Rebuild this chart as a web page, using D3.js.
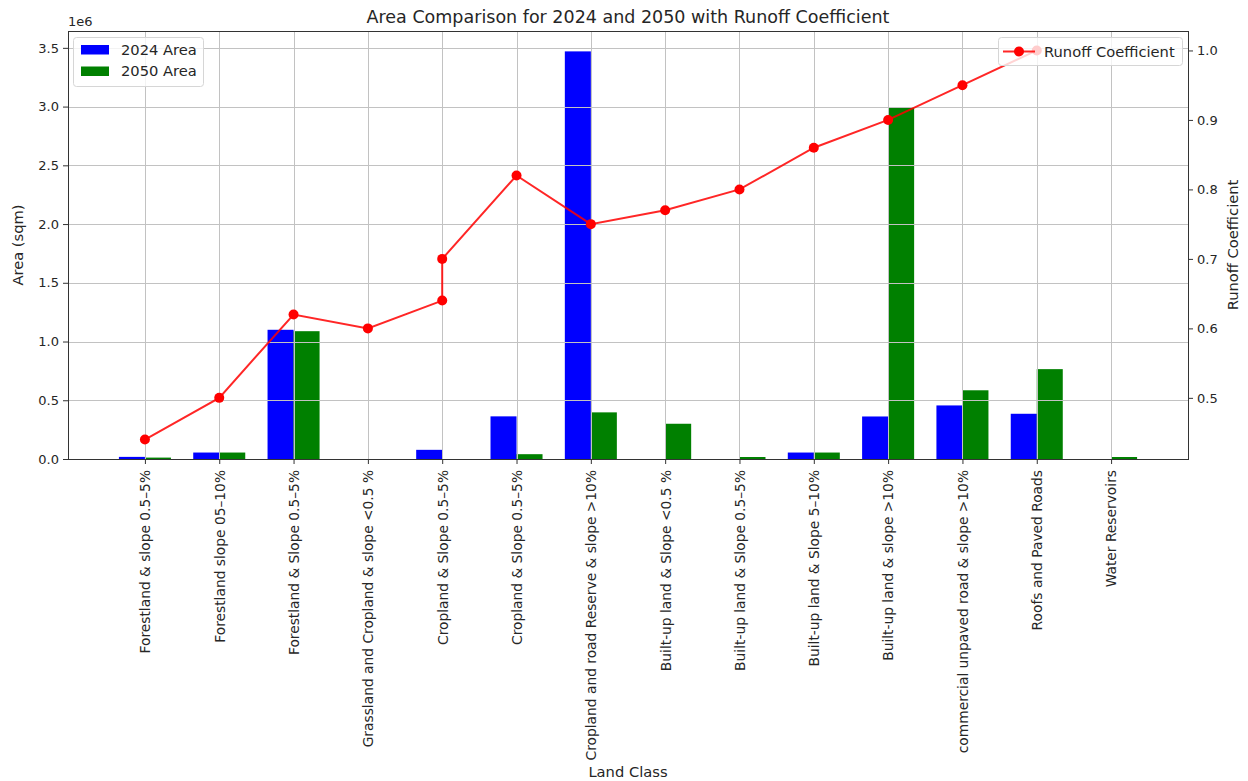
<!DOCTYPE html>
<html>
<head>
<meta charset="utf-8">
<script src="https://cdn.jsdelivr.net/npm/d3@7"></script>
<style>
  html, body { margin: 0; padding: 0; background: #fff; }
  svg { display: block; font-family: "DejaVu Sans", sans-serif; }
</style>
</head>
<body>
<svg id="chart" width="1248" height="781"></svg>
<script>
// Land classes (note: "Cropland & Slope 0.5–5%" appears twice)
const landClasses = [
  "Forestland & slope 0.5–5%",
  "Forestland slope 05–10%",
  "Forestland & Slope 0.5–5%",
  "Grassland and Cropland & slope <0.5 %",
  "Cropland & Slope 0.5–5%",
  "Cropland & Slope 0.5–5%",
  "Cropland and road Reserve & slope >10%",
  "Built-up land & Slope <0.5 %",
  "Built-up land & Slope 0.5–5%",
  "Built-up land & Slope 5–10%",
  "Built-up land & slope >10%",
  "commercial unpaved road & slope >10%",
  "Roofs and Paved Roads",
  "Water Reservoirs"
];

// Areas in square metres
const area2024 = [18000, 55000, 1100000, 0, 78000, 363000, 3470000, 0, 0, 55000, 362000, 456000, 385000, 0];
const area2050 = [12000, 55000, 1088000, 0, 0, 41000, 397000, 300000, 17000, 55000, 2990000, 585000, 765000, 17000];

// Runoff coefficient per land class; the line is placed by class name,
// so repeated names share one slot and later classes move left by one
const runoffCoeff = [0.44, 0.50, 0.62, 0.60, 0.64, 0.70, 0.82, 0.75, 0.77, 0.80, 0.86, 0.90, 0.95, 1.00];

const leftTicks = [0, 0.5e6, 1.0e6, 1.5e6, 2.0e6, 2.5e6, 3.0e6, 3.5e6];
const rightTicks = [0.5, 0.6, 0.7, 0.8, 0.9, 1.0];

const svg = d3.select("#chart");
const plot = { left: 68, right: 1188, top: 31, bottom: 459 };
const textColor = "#262626";
const tickFs = 13, xTickFs = 13.8, labelFs = 14.7, titleFs = 17.5;

const barW = 0.35;
const n = landClasses.length;
const xPad = 0.05 * (n - 1 + 2 * barW);
const x = d3.scaleLinear()
  .domain([-barW - xPad, n - 1 + barW + xPad])
  .range([plot.left, plot.right]);

const maxArea = d3.max(area2024.concat(area2050));
const yL = d3.scaleLinear().domain([0, maxArea * 1.05]).range([plot.bottom, plot.top]);

const rMin = d3.min(runoffCoeff), rMax = d3.max(runoffCoeff);
const rPad = 0.05 * (rMax - rMin);
const yR = d3.scaleLinear().domain([rMin - rPad, rMax + rPad]).range([plot.bottom, plot.top]);

// Bars
const barG = svg.append("g");
barG.selectAll("rect.b24").data(area2024).join("rect")
  .attr("x", (d, i) => x(i - barW))
  .attr("width", (d, i) => x(i) - x(i - barW))
  .attr("y", d => yL(d))
  .attr("height", d => yL(0) - yL(d))
  .attr("fill", "#0000ff");
barG.selectAll("rect.b50").data(area2050).join("rect")
  .attr("x", (d, i) => x(i))
  .attr("width", (d, i) => x(i + barW) - x(i))
  .attr("y", d => yL(d))
  .attr("height", d => yL(0) - yL(d))
  .attr("fill", "#008000");

// Grid (drawn above the bars)
const grid = svg.append("g").attr("stroke", "#c2c2c2").attr("stroke-width", 1);
grid.selectAll("line.v").data(d3.range(n)).join("line")
  .attr("x1", i => Math.round(x(i)) + 0.5).attr("x2", i => Math.round(x(i)) + 0.5)
  .attr("y1", plot.top).attr("y2", plot.bottom);
grid.selectAll("line.h").data(leftTicks).join("line")
  .attr("x1", plot.left).attr("x2", plot.right)
  .attr("y1", d => Math.round(yL(d)) + 0.5).attr("y2", d => Math.round(yL(d)) + 0.5);

// Axes
const xAxis = d3.axisBottom(x).tickValues(d3.range(n))
  .tickFormat(i => landClasses[i]).tickSize(5).tickPadding(5);
const gx = svg.append("g").attr("transform", `translate(0,${plot.bottom})`).call(xAxis);

const gyL = svg.append("g").attr("transform", `translate(${plot.left},0)`)
  .call(d3.axisLeft(yL).tickValues(leftTicks).tickFormat(d => (d / 1e6).toFixed(1)).tickSize(5).tickPadding(5));

const gyR = svg.append("g").attr("transform", `translate(${plot.right},0)`)
  .call(d3.axisRight(yR).tickValues(rightTicks).tickFormat(d3.format(".1f")).tickSize(5).tickPadding(5));

[gx, gyL, gyR].forEach(g => {
  g.select(".domain").remove();
  g.selectAll("line").attr("stroke", "#333");
  g.selectAll("text").attr("fill", textColor).style("font-size", tickFs + "px")
    .style("font-family", "DejaVu Sans, sans-serif");
});
gx.selectAll("text")
  .style("font-size", xTickFs + "px")
  .attr("transform", "rotate(-90)")
  .attr("text-anchor", "end")
  .attr("x", -11).attr("y", 0).attr("dy", "0.35em");
gyL.selectAll("text").attr("x", -9);
gyR.selectAll("text").attr("x", 9);

// Frame
svg.append("rect")
  .attr("x", plot.left + 0.5).attr("y", plot.top + 0.5)
  .attr("width", plot.right - plot.left).attr("height", plot.bottom - plot.top)
  .attr("fill", "none").attr("stroke", "#333").attr("stroke-width", 1);

// Offset text for the left axis
svg.append("text").attr("x", plot.left).attr("y", 26)
  .attr("fill", textColor).style("font-size", "13px").text("1e6");

// Titles
svg.append("text").attr("x", (plot.left + plot.right) / 2).attr("y", 23)
  .attr("text-anchor", "middle").attr("fill", textColor).style("font-size", titleFs + "px")
  .text("Area Comparison for 2024 and 2050 with Runoff Coefficient");
svg.append("text").attr("x", (plot.left + plot.right) / 2).attr("y", 777)
  .attr("text-anchor", "middle").attr("fill", textColor).style("font-size", labelFs + "px")
  .text("Land Class");
svg.append("text")
  .attr("transform", `translate(23,${(plot.top + plot.bottom) / 2}) rotate(-90)`)
  .attr("text-anchor", "middle").attr("fill", textColor).style("font-size", labelFs + "px")
  .text("Area (sqm)");
svg.append("text")
  .attr("transform", `translate(1238,${(plot.top + plot.bottom) / 2}) rotate(-90)`)
  .attr("text-anchor", "middle").attr("fill", textColor).style("font-size", labelFs + "px")
  .text("Runoff Coefficient");

// Legend for the bars
const legL = svg.append("g");
legL.append("rect").attr("x", 73.5).attr("y", 37.5).attr("width", 130).attr("height", 49)
  .attr("rx", 3).attr("fill", "#fff").attr("fill-opacity", 0.8).attr("stroke", "#d6d6d6");
[["2024 Area", "#0000ff"], ["2050 Area", "#008000"]].forEach(([label, c], k) => {
  const cy = 49.5 + k * 21.5;
  legL.append("rect").attr("x", 81).attr("y", cy - 4.5).attr("width", 28).attr("height", 9.5).attr("fill", c);
  legL.append("text").attr("x", 121).attr("y", cy).attr("dy", "0.35em")
    .attr("fill", textColor).style("font-size", labelFs + "px").text(label);
});

// Runoff line (secondary axis); each class name maps to its first-seen slot
const slots = Array.from(new Set(landClasses));
const linePts = runoffCoeff.map((v, i) => ({ xi: slots.indexOf(landClasses[i]), v }));
const line = d3.line().x(d => x(d.xi)).y(d => yR(d.v));
svg.append("path").datum(linePts).attr("d", line)
  .attr("fill", "none").attr("stroke", "#ff0000").attr("stroke-opacity", 0.85).attr("stroke-width", 2);
svg.append("g").selectAll("circle").data(linePts).join("circle")
  .attr("cx", d => x(d.xi)).attr("cy", d => yR(d.v)).attr("r", 5).attr("fill", "#ff0000");

// Legend for the line
const legR = svg.append("g");
legR.append("rect").attr("x", 998.5).attr("y", 37.5).attr("width", 184).attr("height", 28)
  .attr("rx", 3).attr("fill", "#fff").attr("fill-opacity", 0.8).attr("stroke", "#d6d6d6");
legR.append("line").attr("x1", 1003).attr("x2", 1035).attr("y1", 51.5).attr("y2", 51.5)
  .attr("stroke", "#ff0000").attr("stroke-opacity", 0.85).attr("stroke-width", 2);
legR.append("circle").attr("cx", 1019).attr("cy", 51.5).attr("r", 5).attr("fill", "#ff0000");
legR.append("text").attr("x", 1044).attr("y", 51.5).attr("dy", "0.35em")
  .attr("fill", textColor).style("font-size", labelFs + "px").text("Runoff Coefficient");
</script>
</body>
</html>
